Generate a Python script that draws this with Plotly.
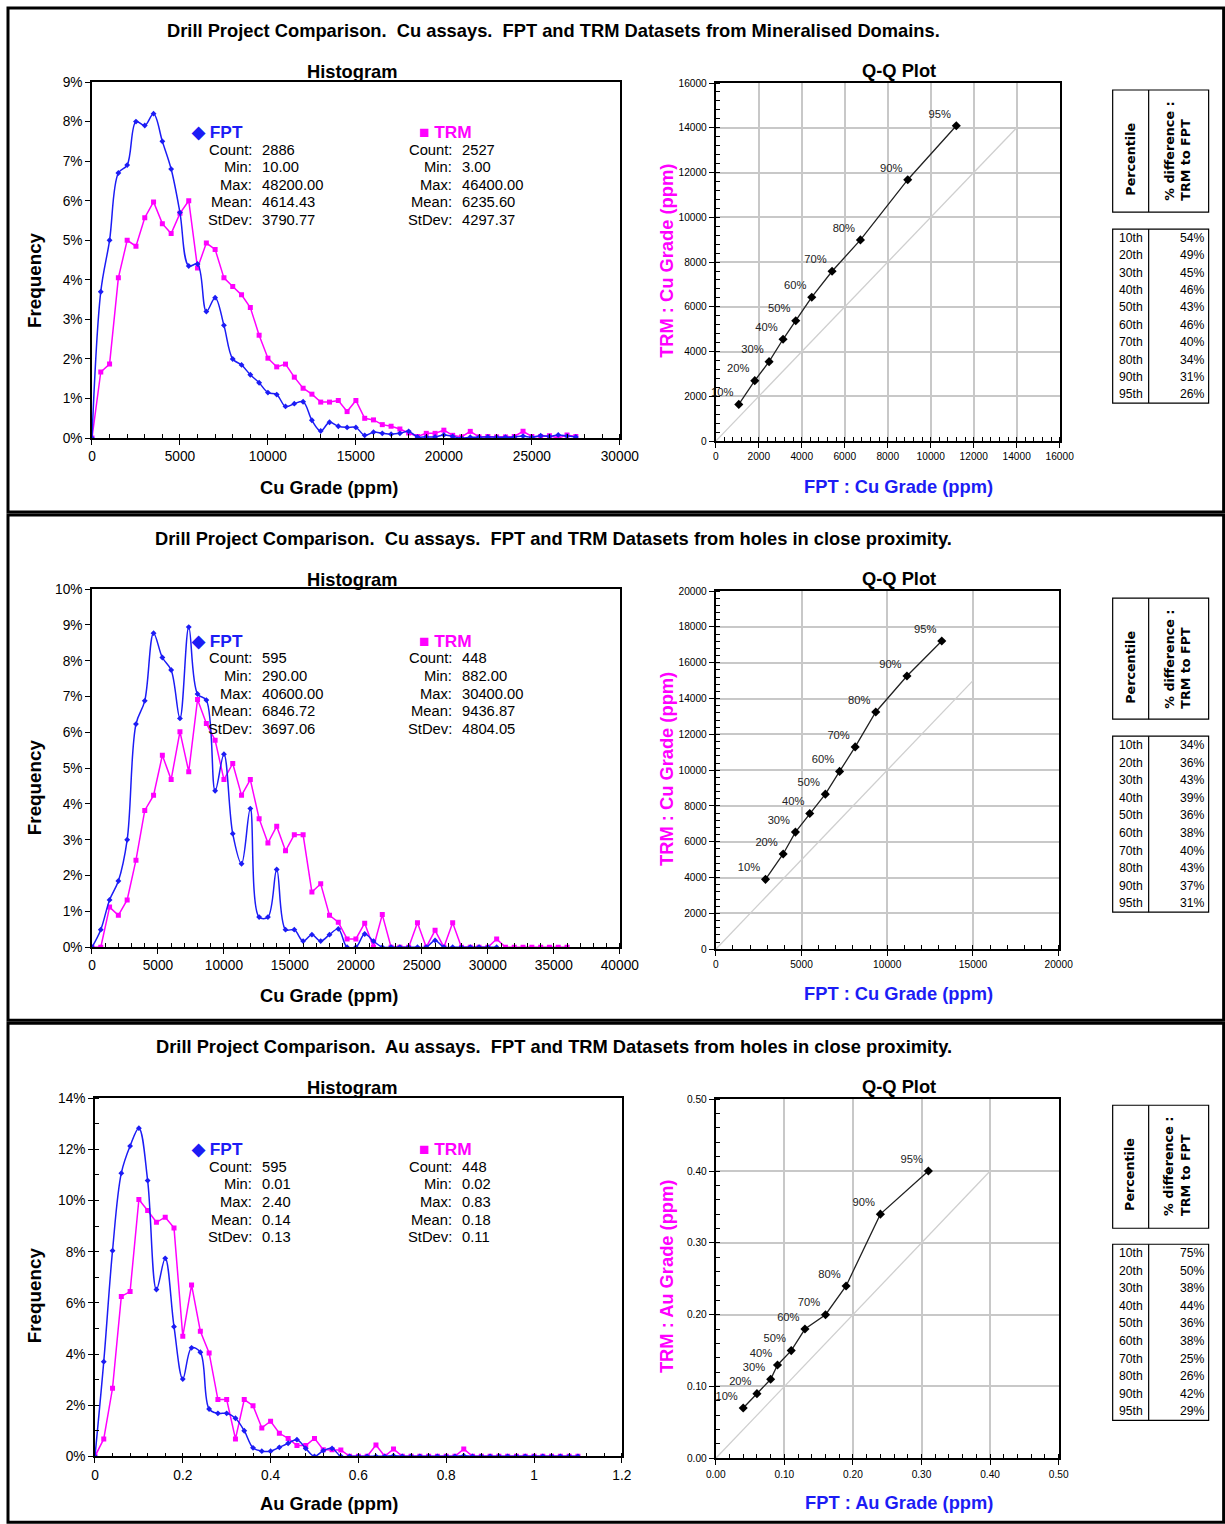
import plotly.graph_objects as go

# ---------------- DATA ----------------
# Histogram bin widths (60 bins across each histogram x-range)
p1_bin = 500
p2_bin = 40000 / 60
p3_bin = 0.02

# Panel 1: Cu, mineralised domains (frequency, %)
p1_fpt_freq = [0, 3.7, 5.0, 6.7, 6.9, 8.0, 7.9, 8.2, 7.5, 6.8, 5.7, 4.35, 4.4, 3.2, 3.55, 2.85,
               2.0, 1.85, 1.6, 1.4, 1.15, 1.1, 0.8, 0.87, 0.92, 0.45, 0.18, 0.4, 0.3, 0.27, 0.27,
               0.07, 0.15, 0.12, 0.1, 0.12, 0.17, 0.03, 0.03, 0.03, 0.08, 0.04, 0.0, 0.02, 0.02,
               0.03, 0.02, 0.02, 0.03, 0.05, 0.02, 0.06, 0.04, 0.08, 0.05, 0.03]
p1_trm_freq = [0, 1.67, 1.87, 4.05, 5.0, 4.85, 5.57, 5.97, 5.42, 5.17, 5.68, 6.0, 4.3, 4.93, 4.77,
               4.05, 3.83, 3.62, 3.3, 2.6, 2.02, 1.8, 1.87, 1.54, 1.26, 1.11, 0.91, 0.91, 0.95,
               0.67, 0.95, 0.5, 0.46, 0.34, 0.3, 0.23, 0.13, 0.04, 0.12, 0.12, 0.2, 0.07, 0.03,
               0.17, 0.03, 0.04, 0.03, 0.03, 0.04, 0.17, 0.04, 0.04, 0.06, 0.0, 0.08, 0.04]

# Panel 2: Cu, holes in close proximity
p2_fpt_freq = [0, 0.49, 1.32, 1.85, 3.0, 6.23, 6.88, 8.77, 8.09, 7.74, 6.39, 8.94, 7.07, 6.9, 4.37,
               5.39, 3.17, 2.33, 3.87, 0.84, 0.84, 2.17, 0.49, 0.49, 0.17, 0.35, 0.17, 0.35, 0.51,
               0, 0, 0.37, 0.17, 0, 0, 0, 0, 0, 0, 0.19, 0, 0, 0, 0, 0, 0, 0]
p2_trm_freq = [0, 0, 1.12, 0.89, 1.32, 2.43, 3.82, 4.24, 5.36, 4.68, 6.02, 4.9, 6.92, 6.25, 5.78,
               4.68, 5.13, 4.24, 4.68, 3.59, 2.91, 3.38, 2.69, 3.14, 3.14, 1.54, 1.77, 0.89, 0.7,
               0.23, 0.23, 0.67, 0, 0.91, 0, 0, 0, 0.68, 0, 0.47, 0, 0.68, 0, 0, 0, 0, 0.23, 0,
               0, 0, 0, 0, 0, 0, 0]

# Panel 3: Au, holes in close proximity
p3_fpt_freq = [0, 3.7, 8.04, 11.07, 12.13, 12.83, 10.78, 6.52, 7.74, 5.07, 3.02, 4.24, 4.07, 1.85,
               1.68, 1.68, 1.49, 1.0, 0.33, 0.2, 0.2, 0.35, 0.51, 0.65, 0.31, 0, 0.22, 0.31, 0,
               0, 0, 0, 0, 0, 0.02, 0, 0, 0, 0, 0, 0, 0, 0.02, 0, 0, 0, 0, 0, 0, 0, 0, 0, 0, 0,
               0, 0]
p3_trm_freq = [0, 0.68, 2.66, 6.25, 6.44, 10.04, 9.61, 9.15, 9.35, 8.93, 4.69, 6.7, 4.89, 4.04,
               2.22, 2.22, 0.68, 2.22, 1.98, 1.11, 1.37, 0.9, 0.7, 0.42, 0.42, 0.7, 0.26, 0.26,
               0.25, 0, 0, 0, 0.44, 0, 0.29, 0, 0, 0, 0, 0, 0, 0, 0.29, 0, 0, 0, 0, 0, 0, 0, 0,
               0, 0, 0, 0, 0]

# Summary statistics
stat_labels = ["Count:", "Min:", "Max:", "Mean:", "StDev:"]
p1_fpt_stats = ["2886", "10.00", "48200.00", "4614.43", "3790.77"]
p1_trm_stats = ["2527", "3.00", "46400.00", "6235.60", "4297.37"]
p2_fpt_stats = ["595", "290.00", "40600.00", "6846.72", "3697.06"]
p2_trm_stats = ["448", "882.00", "30400.00", "9436.87", "4804.05"]
p3_fpt_stats = ["595", "0.01", "2.40", "0.14", "0.13"]
p3_trm_stats = ["448", "0.02", "0.83", "0.18", "0.11"]

# Q-Q plot percentiles
qq_labels = ["10%", "20%", "30%", "40%", "50%", "60%", "70%", "80%", "90%", "95%"]
p1_qq_fpt = [1070, 1814, 2480, 3130, 3720, 4465, 5410, 6730, 8930, 11190]
p1_qq_trm = [1640, 2700, 3550, 4550, 5380, 6430, 7590, 8990, 11680, 14090]
p2_qq_fpt = [2900, 3930, 4645, 5480, 6390, 7220, 8130, 9330, 11150, 13180]
p2_qq_trm = [3900, 5320, 6540, 7580, 8660, 9930, 11300, 13250, 15260, 17210]
p3_qq_fpt = [0.04, 0.06, 0.08, 0.09, 0.11, 0.13, 0.16, 0.19, 0.24, 0.31]
p3_qq_trm = [0.07, 0.09, 0.11, 0.13, 0.15, 0.18, 0.20, 0.24, 0.34, 0.40]

# Percentile tables
percentile_rows = ["10th", "20th", "30th", "40th", "50th", "60th", "70th", "80th", "90th", "95th"]
p1_pct_diff = ["54%", "49%", "45%", "46%", "43%", "46%", "40%", "34%", "31%", "26%"]
p2_pct_diff = ["34%", "36%", "43%", "39%", "36%", "38%", "40%", "43%", "37%", "31%"]
p3_pct_diff = ["75%", "50%", "38%", "44%", "36%", "38%", "25%", "26%", "42%", "29%"]

titles = [
    "Drill Project Comparison.\u00a0 Cu assays.\u00a0 FPT and TRM Datasets from Mineralised Domains.",
    "Drill Project Comparison.\u00a0 Cu assays.\u00a0 FPT and TRM Datasets from holes in close proximity.",
    "Drill Project Comparison.\u00a0 Au assays.\u00a0 FPT and TRM Datasets from holes in close proximity.",
]
hist_xtitles = ["Cu Grade (ppm)", "Cu Grade (ppm)", "Au Grade (ppm)"]
qq_ytitles = ["TRM : Cu Grade (ppm)", "TRM : Cu Grade (ppm)", "TRM : Au Grade (ppm)"]
qq_xtitles = ["FPT : Cu Grade (ppm)", "FPT : Cu Grade (ppm)", "FPT : Au Grade (ppm)"]

# ---------------- LAYOUT HELPERS ----------------
# Design coordinates are in target-picture pixels; they are mapped to figure pixels
# through the observed page placement (body margin + capture scaling).
SX, OX = 0.977, 9.0
SY, OY = 0.99, 7.0
W, H = 1245, 1532
FS = 1.0 / 0.983  # font compensation
FONT = "Liberation Sans, Arial, sans-serif"
BLUE = "#1c1cf5"
MAGENTA = "#ff00ff"


def fx(x):
    return ((x - OX) / SX) / W


def fy(y):
    return 1 - ((y - OY) / SY) / H


def fs(s):
    return round(s * FS, 2)


panels = [
    dict(box=(8, 512), title_y=30, hist=(91, 619, 82, 438), qq=(715, 1059, 83, 441),
         sub_y=71, xt_y=487, freq_y=280, qqyt_y=261, qqxt_y=486, leg_y=132,
         thead=(90, 212), tbody=(229, 403),
         hx=dict(range=[0, 30000], dtick=5000, minor=1000, fmt="d"),
         hy=dict(range=[0, 9], dtick=1, minor=None),
         qx=dict(range=[0, 16000], dtick=2000, minor=400, fmt="d"),
         qy=dict(range=[0, 16000], dtick=2000, minor=400, fmt="d"), diag=14000,
         bin=p1_bin, fpt=p1_fpt_freq, trm=p1_trm_freq, sf=p1_fpt_stats, st=p1_trm_stats,
         qf=p1_qq_fpt, qt=p1_qq_trm, diff=p1_pct_diff),
    dict(box=(515, 1020), title_y=538, hist=(91, 619, 589, 947), qq=(715, 1058, 591, 949),
         sub_y=579, xt_y=995, freq_y=787, qqyt_y=769, qqxt_y=993, leg_y=640.7,
         thead=(598, 719), tbody=(736, 912),
         hx=dict(range=[0, 40000], dtick=5000, minor=1000, fmt="d"),
         hy=dict(range=[0, 10], dtick=1, minor=None),
         qx=dict(range=[0, 20000], dtick=5000, minor=1000, fmt="d"),
         qy=dict(range=[0, 20000], dtick=2000, minor=400, fmt="d"), diag=15000,
         bin=p2_bin, fpt=p2_fpt_freq, trm=p2_trm_freq, sf=p2_fpt_stats, st=p2_trm_stats,
         qf=p2_qq_fpt, qt=p2_qq_trm, diff=p2_pct_diff),
    dict(box=(1023, 1522), title_y=1046, hist=(94, 621, 1098, 1456), qq=(715, 1058, 1099, 1458),
         sub_y=1087, xt_y=1503, freq_y=1295, qqyt_y=1276, qqxt_y=1502, leg_y=1149,
         thead=(1105, 1228), tbody=(1244, 1420),
         hx=dict(range=[0, 1.2], dtick=0.2, minor=0.04, fmt=None),
         hy=dict(range=[0, 14], dtick=2, minor=1),
         qx=dict(range=[0, 0.5], dtick=0.1, minor=0.02, fmt=".2f"),
         qy=dict(range=[0, 0.5], dtick=0.1, minor=0.02, fmt=".2f"), diag=0.4,
         bin=p3_bin, fpt=p3_fpt_freq, trm=p3_trm_freq, sf=p3_fpt_stats, st=p3_trm_stats,
         qf=p3_qq_fpt, qt=p3_qq_trm, diff=p3_pct_diff),
]

fig = go.Figure()
annotations = []
shapes = []
layout = {}


def ann(x, y, text, size, color="black", xanchor="center", yanchor="middle", angle=0,
        align="center", family=FONT):
    annotations.append(dict(x=fx(x), y=fy(y), xref="paper", yref="paper", text=text,
                            showarrow=False, xanchor=xanchor, yanchor=yanchor,
                            textangle=angle, align=align,
                            font=dict(family=family, size=fs(size), color=color)))


def axis_def(domain, spec, ticksize, grid, lw, tlen):
    d = dict(domain=domain, range=spec["range"], dtick=spec["dtick"], tick0=0,
             showline=True, linecolor="black", linewidth=lw, mirror=True,
             ticks="outside", ticklen=tlen, tickcolor="black", tickwidth=1,
             zeroline=False, showgrid=grid, gridcolor="#c8c8c8", gridwidth=1.5,
             tickfont=dict(family=FONT, size=fs(ticksize), color="black"), fixedrange=True)
    if spec.get("fmt"):
        d["tickformat"] = spec["fmt"]
    if spec.get("minor"):
        d["minor"] = dict(dtick=spec["minor"], tick0=0, ticks="inside", ticklen=4,
                          tickcolor="black", showgrid=False)
    return d


for p, cfg in enumerate(panels):
    hi = 2 * p + 1
    qi = 2 * p + 2
    hxn = "x" if hi == 1 else f"x{hi}"
    hyn = "y" if hi == 1 else f"y{hi}"
    qxn, qyn = f"x{qi}", f"y{qi}"

    # ---- axes ----
    x0, x1, y0, y1 = cfg["hist"]
    xa = axis_def([fx(x0), fx(x1)], cfg["hx"], 13.5, False, 1.5, 5)
    ya = axis_def([fy(y1), fy(y0)], cfg["hy"], 13.5, False, 1.5, 5)
    ya["ticksuffix"] = "%"
    xa["anchor"] = hyn
    ya["anchor"] = hxn
    layout["xaxis" if hi == 1 else f"xaxis{hi}"] = xa
    layout["yaxis" if hi == 1 else f"yaxis{hi}"] = ya

    x0, x1, y0, y1 = cfg["qq"]
    xa = axis_def([fx(x0), fx(x1)], cfg["qx"], 10, True, 2, 5)
    ya = axis_def([fy(y1), fy(y0)], cfg["qy"], 10, True, 2, 5)
    xa["anchor"] = qyn
    ya["anchor"] = qxn
    layout[f"xaxis{qi}"] = xa
    layout[f"yaxis{qi}"] = ya

    # ---- histogram traces ----
    xs_f = [k * cfg["bin"] for k in range(len(cfg["fpt"]))]
    xs_t = [k * cfg["bin"] for k in range(len(cfg["trm"]))]
    fig.add_trace(go.Scatter(x=xs_t, y=cfg["trm"], mode="lines+markers", xaxis=hxn, yaxis=hyn,
                             line=dict(color=MAGENTA, width=1.5),
                             marker=dict(symbol="square", size=5, color=MAGENTA),
                             showlegend=False, hoverinfo="skip"))
    fig.add_trace(go.Scatter(x=xs_f, y=cfg["fpt"], mode="lines+markers", xaxis=hxn, yaxis=hyn,
                             line=dict(color=BLUE, width=1.5, shape="spline", smoothing=1.0),
                             marker=dict(symbol="diamond", size=4.5, color=BLUE),
                             showlegend=False, hoverinfo="skip"))

    # ---- QQ traces ----
    fig.add_trace(go.Scatter(x=[0, cfg["diag"]], y=[0, cfg["diag"]], mode="lines",
                             xaxis=qxn, yaxis=qyn, line=dict(color="#cfcfcf", width=1.3),
                             showlegend=False, hoverinfo="skip"))
    fig.add_trace(go.Scatter(x=cfg["qf"], y=cfg["qt"], mode="lines+markers+text",
                             xaxis=qxn, yaxis=qyn, text=qq_labels, textposition="top left",
                             textfont=dict(family=FONT, size=fs(11), color="#222"),
                             line=dict(color="#222", width=1.3),
                             marker=dict(symbol="diamond", size=7, color="black"),
                             showlegend=False, hoverinfo="skip", cliponaxis=False))

    # ---- texts ----
    ann(553, cfg["title_y"], "<b>" + titles[p] + "</b>", 18)
    ann(351, cfg["sub_y"], "<b>Histogram</b>", 18)
    ann(898, cfg["sub_y"] - 1, "<b>Q-Q Plot</b>", 18)
    ann(328, cfg["xt_y"], "<b>" + hist_xtitles[p] + "</b>", 18)
    ann(33, cfg["freq_y"], "<b>Frequency</b>", 18.5, angle=-90)
    ann(665, cfg["qqyt_y"], "<b>" + qq_ytitles[p] + "</b>", 18, color=MAGENTA, angle=-90)
    ann(898, cfg["qqxt_y"], "<b>" + qq_xtitles[p] + "</b>", 18, color=BLUE)

    ly = cfg["leg_y"]
    ann(188, ly, "<b>\u25c6 FPT</b>", 17, color=BLUE, xanchor="left")
    ann(416, ly, "<b>\u25a0 TRM</b>", 17, color=MAGENTA, xanchor="left")
    for i, lab in enumerate(stat_labels):
        yy = ly + 17.6 * (i + 1)
        ann(253, yy, lab, 14.5, xanchor="right")
        ann(259, yy, cfg["sf"][i], 14.5, xanchor="left")
        ann(453, yy, lab, 14.5, xanchor="right")
        ann(459, yy, cfg["st"][i], 14.5, xanchor="left")

    # ---- panel border ----
    b0, b1 = cfg["box"]
    shapes.append(dict(type="rect", xref="paper", yref="paper", x0=fx(7), x1=fx(1223),
                       y0=fy(b1), y1=fy(b0), line=dict(color="black", width=3)))

    # ---- table ----
    t0, t1 = cfg["thead"]
    shapes.append(dict(type="rect", xref="paper", yref="paper", x0=fx(1112), x1=fx(1208),
                       y0=fy(t1), y1=fy(t0), line=dict(color="black", width=1.2)))
    shapes.append(dict(type="line", xref="paper", yref="paper", x0=fx(1148), x1=fx(1148),
                       y0=fy(t1), y1=fy(t0), line=dict(color="black", width=1.2)))
    ann(1129, t0 + 69, "<b>Percentile</b>", 12.5, angle=-90, family="DejaVu Sans, sans-serif")
    ann(1177, t0 + 61, "<b>% difference :<br>TRM to FPT</b>", 12.5, angle=-90, align="left",
        family="DejaVu Sans, sans-serif")

    d0, d1 = cfg["tbody"]
    shapes.append(dict(type="rect", xref="paper", yref="paper", x0=fx(1112), x1=fx(1208),
                       y0=fy(d1), y1=fy(d0), line=dict(color="black", width=1.2)))
    shapes.append(dict(type="line", xref="paper", yref="paper", x0=fx(1148), x1=fx(1148),
                       y0=fy(d1), y1=fy(d0), line=dict(color="black", width=1.2)))
    rh = (d1 - d0) / 10
    for i, row in enumerate(percentile_rows):
        yy = d0 + rh * (i + 0.5)
        ann(1116, yy, row, 12, xanchor="left")
        ann(1206, yy, cfg["diff"][i], 12, xanchor="right")

fig.update_layout(
    width=W, height=H, margin=dict(l=0, r=0, t=0, b=0, pad=0),
    paper_bgcolor="white", plot_bgcolor="white", showlegend=False,
    annotations=annotations, shapes=shapes, **layout,
)

fig.write_html("out.html", config={"displayModeBar": False})
